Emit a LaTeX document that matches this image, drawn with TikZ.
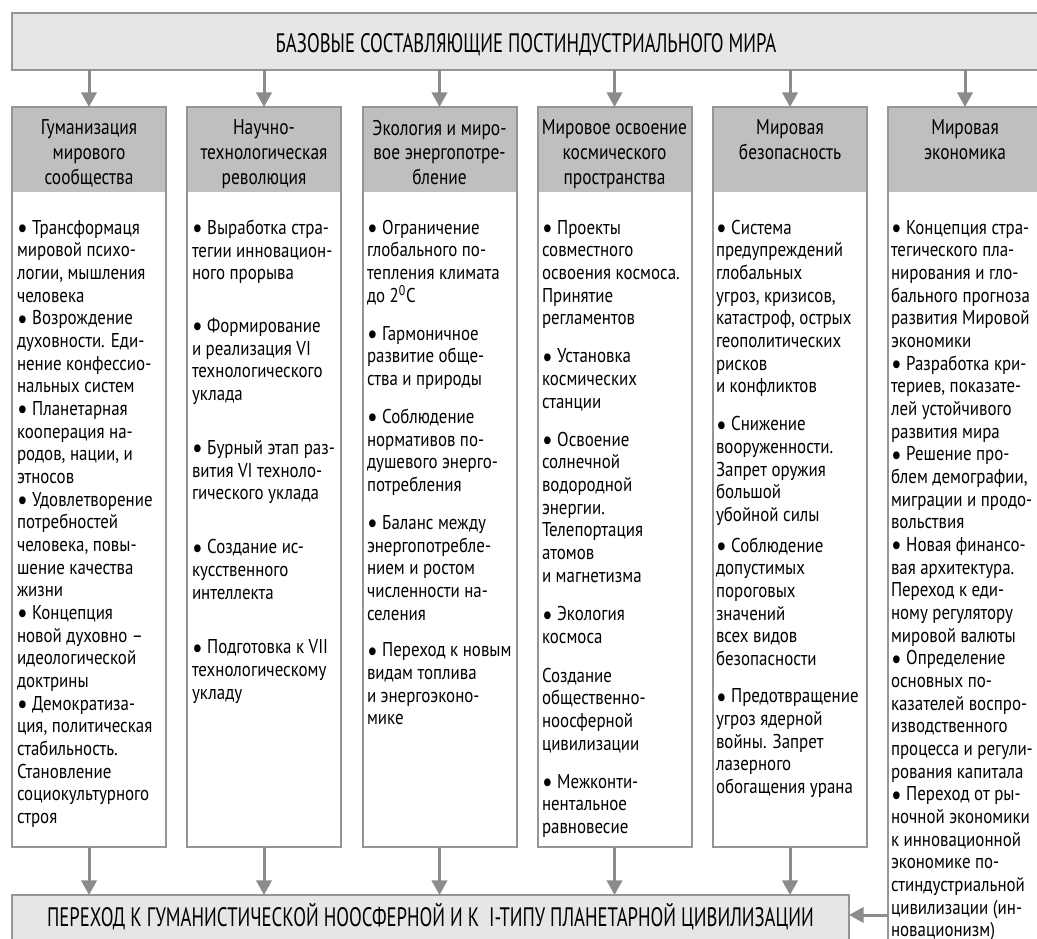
\documentclass[tikz,border=0pt]{standalone}
\usepackage{fontspec}
\setmainfont{PT Sans}
\newfontfamily\bodyfont{PT Sans}[FakeStretch=0.845]
\newfontfamily\namefont{PT Sans}[FakeStretch=0.815]
\newfontfamily\capsfont{PT Sans}[FakeStretch=0.70]
\usetikzlibrary{arrows.meta}
\definecolor{framegray}{HTML}{959595}
\definecolor{arrowgray}{HTML}{8C8C8C}
\definecolor{headgray}{HTML}{BFBFBF}
\definecolor{palegray}{HTML}{E6E6E6}
\newcommand{\bul}{\smash{\raisebox{-2.5pt}{\fontsize{21}{17}\selectfont\textbullet}}\ }

\begin{document}
\begin{tikzpicture}[x=0.75pt,y=-0.75pt,inner sep=0pt,outer sep=0pt,
mainbox/.style={draw=framegray,fill=palegray,line width=1.5pt,anchor=north,font=\capsfont\fontsize{20}{24}\selectfont},
headbox/.style={fill=headgray,anchor=north,minimum width=115.5pt,minimum height=63.75pt},
colbox/.style={draw=framegray,line width=1.5pt,anchor=north,minimum width=115.5pt,minimum height=555pt},
headtext/.style={anchor=north,align=center,font=\namefont\fontsize{16}{18.4}\selectfont},
listtext/.style={anchor=north west,align=left,font=\bodyfont\fontsize{15}{17}\selectfont},
link/.style={-{Triangle[width=11.5pt,length=11pt]},draw=arrowgray,line width=2.25pt}]
\useasboundingbox (0,0) rectangle (1037,938);
% top and bottom boxes
\draw (526,13) node[mainbox,minimum width=771pt,text height=30pt,text depth=12.75pt] (base) {БАЗОВЫЕ СОСТАВЛЯЮЩИЕ ПОСТИНДУСТРИАЛЬНОГО МИРА};
\draw (430.5,895) node[mainbox,minimum width=627.75pt,text height=23.25pt,text depth=25.5pt] (goal) {ПЕРЕХОД К ГУМАНИСТИЧЕСКОЙ НООСФЕРНОЙ И К\ \ I-ТИПУ ПЛАНЕТАРНОЙ ЦИВИЛИЗАЦИИ};
% column frames
\draw (89,107) node[headbox] (head1) {};
\draw (89,107) node[colbox] (col1) {};
\draw (264,107) node[headbox] (head2) {};
\draw (264,107) node[colbox] (col2) {};
\draw (439.5,107) node[headbox] (head3) {};
\draw (439.5,107) node[colbox] (col3) {};
\draw (614.5,107) node[headbox] (head4) {};
\draw (614.5,107) node[colbox] (col4) {};
\draw (790,107) node[headbox] (head5) {};
\draw (790,107) node[colbox] (col5) {};
\draw (965,107) node[headbox] (head6) {};
\draw (965,107) node[colbox,minimum height=639.75pt] (col6) {};
% column titles
\draw (89,120) node[headtext] (name1) {Гуманизация\\мирового\\сообщества};
\draw (264,120) node[headtext] (name2) {Научно-\\технологическая\\революция};
\draw (439.5,120) node[headtext] (name3) {Экология и миро-\\вое энергопотре-\\бление};
\draw (614.5,120) node[headtext] (name4) {Мировое освоение\\космического\\пространства};
\draw (790,120) node[headtext] (name5) {Мировая\\безопасность};
\draw (965,120) node[headtext] (name6) {Мировая\\экономика};
% column lists
\draw (17,220) node[listtext] (list1) {\bul Трансформаця\\
мировой психо-\\
логии, мышления\\
человека\\
\bul Возрождение\\
духовности. Еди-\\
нение конфессио-\\
нальных систем\\
\bul Планетарная\\
кооперация на-\\
родов, нации, и\\
этносов\\
\bul Удовлетворение\\
потребностей\\
человека, повы-\\
шение качества\\
жизни\\
\bul Концепция\\
новой духовно –\\
идеологической\\
доктрины\\
\bul Демократиза-\\
ция, политическая\\
стабильность.\\
Становление\\
социокультурного\\
строя};
\draw (192,220) node[listtext] (list2) {\bul Выработка стра-\\
тегии инновацион-\\
ного прорыва\\[22.5pt]
\bul Формирование\\
и реализация VI\\
технологического\\
уклада\\[23.5pt]
\bul Бурный этап раз-\\
вития VI техноло-\\
гического уклада\\[23.5pt]
\bul Создание ис-\\
кусственного\\
интеллекта\\[24pt]
\bul Подготовка к VII\\
технологическому\\
укладу};
\draw (367,220) node[listtext] (list3) {\bul Ограничение\\
глобального по-\\
тепления климата\\
до 2\textsuperscript{0}C\\[11.5pt]
\bul Гармоничное\\
развитие обще-\\
ства и природы\\[11.5pt]
\bul Соблюдение\\
нормативов по-\\
душевого энерго-\\
потребления\\[11.5pt]
\bul Баланс между\\
энергопотребле-\\
нием и ростом\\
численности на-\\
селения\\[10.5pt]
\bul Переход к новым\\
видам топлива\\
и энергоэконо-\\
мике};
\draw (542,220) node[listtext] (list4) {\bul Проекты\\
совместного\\
освоения космоса.\\
Принятие\\
регламентов\\[11.5pt]
\bul Установка\\
космических\\
станции\\[11.5pt]
\bul Освоение\\
солнечной\\
водородной\\
энергии.\\
Телепортация\\
атомов\\
и магнетизма\\[12pt]
\bul Экология\\
космоса\\[12pt]
Создание\\
общественно-\\
ноосферной\\
цивилизации\\[11.5pt]
\bul Межконти-\\
нентальное\\
равновесие};
\draw (716,220) node[listtext] (list5) {\bul Система\\
предупреждений\\
глобальных\\
угроз, кризисов,\\
катастроф, острых\\
геополитических\\
рисков\\
и конфликтов\\[11.5pt]
\bul Снижение\\
вооруженности.\\
Запрет оружия\\
большой\\
убойной силы\\[6pt]
\bul Соблюдение\\
допустимых\\
пороговых\\
значений\\
всех видов\\
безопасности\\[11pt]
\bul Предотвращение\\
угроз ядерной\\
войны. Запрет\\
лазерного\\
обогащения урана};
\draw (891,220) node[listtext] (list6) {\bul Концепция стра-\\
тегического пла-\\
нирования и гло-\\
бального прогноза\\
развития Мировой\\
экономики\\
\bul Разработка кри-\\
териев, показате-\\
лей устойчивого\\
развития мира\\
\bul Решение про-\\
блем демографии,\\
миграции и продо-\\
вольствия\\
\bul Новая финансо-\\
вая архитектура.\\
Переход к еди-\\
ному регулятору\\
мировой валюты\\
\bul Определение\\
основных по-\\
казателей воспро-\\
изводственного\\
процесса и регули-\\
рования капитала\\
\bul Переход от ры-\\
ночной экономики\\
к инновационной\\
экономике по-\\
стиндустриальной\\
цивилизации (ин-\\
новационизм)};
% arrows
\draw[link] (base.south -| col1.north) -- (col1.north);
\draw[link] (base.south -| col2.north) -- (col2.north);
\draw[link] (base.south -| col3.north) -- (col3.north);
\draw[link] (base.south -| col4.north) -- (col4.north);
\draw[link] (base.south -| col5.north) -- (col5.north);
\draw[link] (base.south -| col6.north) -- (col6.north);
\draw[link] (col1.south) -- (col1.south |- goal.north);
\draw[link] (col2.south) -- (col2.south |- goal.north);
\draw[link] (col3.south) -- (col3.south |- goal.north);
\draw[link] (col4.south) -- (col4.south |- goal.north);
\draw[link] (col5.south) -- (col5.south |- goal.north);
\coordinate (feed) at ([yshift=8.25pt]goal.base east);
\draw[link] (col6.west |- feed) -- (feed);
\end{tikzpicture}
\end{document}
